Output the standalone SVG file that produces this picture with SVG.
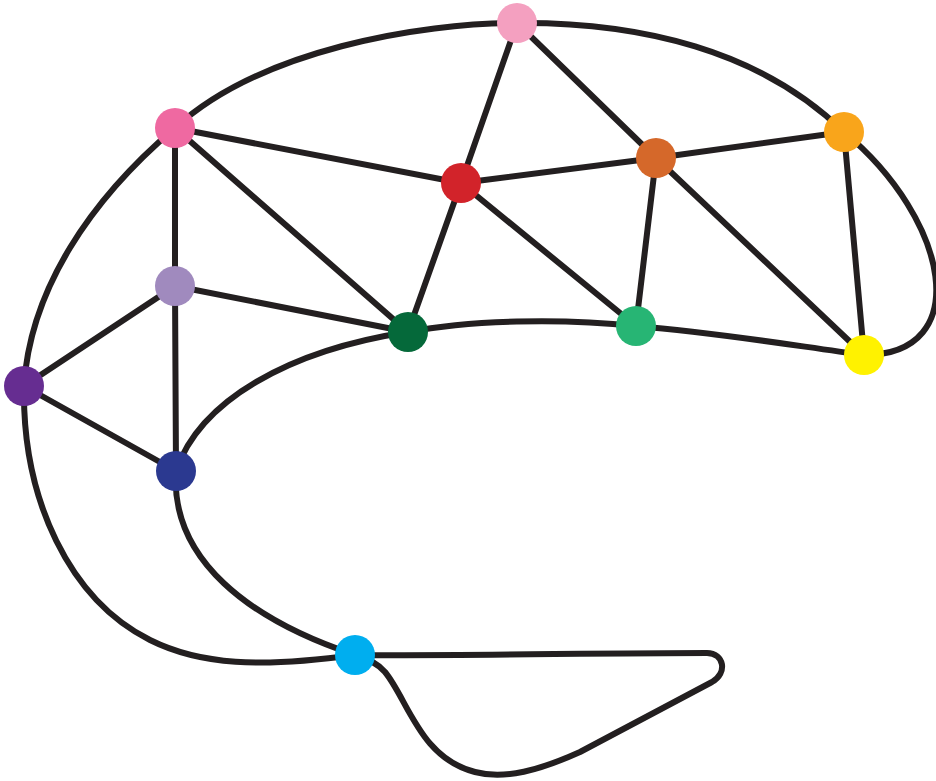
<svg xmlns="http://www.w3.org/2000/svg" width="936" height="781" viewBox="0 0 936 781">
<style>
.e{fill:none;stroke:#231F20;stroke-width:6;stroke-linecap:round;stroke-linejoin:round}
.n{stroke:none}
</style>
<rect width="936" height="781" fill="#ffffff"/>
<g id="connectors">
<path class="e" d="M175,128 C260,50 420,23 517,23 C640,22 760,50 844,132"/>
<path class="e" d="M864,355 C975,355 950,220 844,132"/>
<path class="e" d="M175,128 C90,200 30,290 24,386"/>
<path class="e" d="M24,386 C22,500 70,600 150,640 C200,665 260,668 355,655"/>
<path class="e" d="M176,471 C170,560 250,620 355,655"/>
<path class="e" d="M176,471 C200,400 290,350 408,332"/>
<path class="e" d="M408,332 C470,320 560,318 636,326"/>
<path class="e" d="M636,326 C720,333 790,345 864,355"/>
<path class="e" d="M355,655 C450,656 600,653 707,653 C724,653 728,673 712,682 L580,752 C540,770 505,780 475,772 C420,758 408,700 385,672 C377,663 367,658 355,655"/>
<line class="e" x1="517" y1="23" x2="461" y2="183"/>
<line class="e" x1="517" y1="23" x2="656" y2="158"/>
<line class="e" x1="175" y1="128" x2="461" y2="183"/>
<line class="e" x1="175" y1="128" x2="408" y2="332"/>
<line class="e" x1="175" y1="128" x2="175" y2="286"/>
<line class="e" x1="461" y1="183" x2="656" y2="158"/>
<line class="e" x1="461" y1="183" x2="408" y2="332"/>
<line class="e" x1="461" y1="183" x2="636" y2="326"/>
<line class="e" x1="656" y1="158" x2="844" y2="132"/>
<line class="e" x1="656" y1="158" x2="636" y2="326"/>
<line class="e" x1="656" y1="158" x2="864" y2="355"/>
<line class="e" x1="844" y1="132" x2="864" y2="355"/>
<line class="e" x1="175" y1="286" x2="408" y2="332"/>
<line class="e" x1="175" y1="286" x2="24" y2="386"/>
<line class="e" x1="175" y1="286" x2="176" y2="471"/>
<line class="e" x1="24" y1="386" x2="176" y2="471"/>
</g>
<g id="n-lightpink"><circle class="n" cx="517" cy="23" r="20" fill="#F4A0C0"/></g>
<g id="n-pink"><circle class="n" cx="175" cy="128" r="20" fill="#EF69A1"/></g>
<g id="n-red"><circle class="n" cx="461" cy="183" r="20" fill="#D2232A"/></g>
<g id="n-darkorange"><circle class="n" cx="656" cy="158" r="20" fill="#D5682A"/></g>
<g id="n-orange"><circle class="n" cx="844" cy="132" r="20" fill="#F9A51B"/></g>
<g id="n-lavender"><circle class="n" cx="175" cy="286" r="20" fill="#A08ABE"/></g>
<g id="n-darkgreen"><circle class="n" cx="408" cy="332" r="20" fill="#05693A"/></g>
<g id="n-green"><circle class="n" cx="636" cy="326" r="20" fill="#27B574"/></g>
<g id="n-yellow"><circle class="n" cx="864" cy="355" r="20" fill="#FFF200"/></g>
<g id="n-purple"><circle class="n" cx="24" cy="386" r="20" fill="#662D91"/></g>
<g id="n-navy"><circle class="n" cx="176" cy="471" r="20" fill="#2B3990"/></g>
<g id="n-cyan"><circle class="n" cx="355" cy="655" r="20" fill="#00AEEF"/></g>
</svg>
